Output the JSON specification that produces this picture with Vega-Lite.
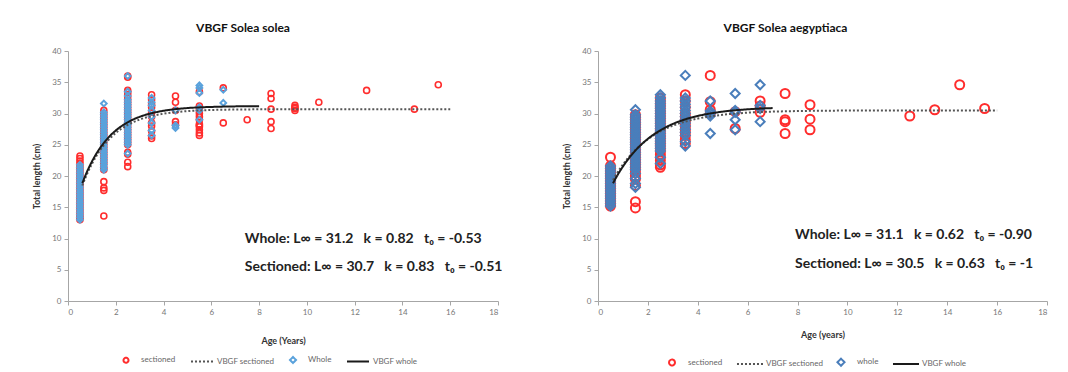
{
"$schema": "https://vega.github.io/schema/vega-lite/v6.json",
"background": "white",
"padding": {"left": 32, "top": 22, "right": 5, "bottom": 0},
"spacing": 59,
"config": {
  "font": "Lato",
  "view": {"stroke": null},
  "axis": {"grid": false, "labelFontSize": 8, "labelColor": "#777", "domainColor": "#a6a6a6", "tickColor": "#a6a6a6", "tickSize": 4, "titleFontSize": 9, "titleFontWeight": "bold", "titleColor": "#333", "labelPadding": 3},
  "title": {"fontSize": 12, "fontWeight": "bold", "color": "#111", "offset": 12},
  "legend": {"labelFontSize": 8, "labelColor": "#666", "columnPadding": 11, "labelOffset": 9, "symbolStrokeWidth": 2}
},
"datasets": {
"sol_pts": [
{"series":"sectioned","age":0.5,"cm":13},{"series":"sectioned","age":0.5,"cm":13.3},{"series":"sectioned","age":0.5,"cm":13.6},{"series":"sectioned","age":0.5,"cm":14},{"series":"sectioned","age":0.5,"cm":14.4},{"series":"sectioned","age":0.5,"cm":14.8},{"series":"sectioned","age":0.5,"cm":15.2},{"series":"sectioned","age":0.5,"cm":15.6},{"series":"sectioned","age":0.5,"cm":16},{"series":"sectioned","age":0.5,"cm":16.4},{"series":"sectioned","age":0.5,"cm":16.8},{"series":"sectioned","age":0.5,"cm":17.2},{"series":"sectioned","age":0.5,"cm":17.6},{"series":"sectioned","age":0.5,"cm":18},{"series":"sectioned","age":0.5,"cm":18.4},{"series":"sectioned","age":0.5,"cm":18.8},{"series":"sectioned","age":0.5,"cm":19.2},{"series":"sectioned","age":0.5,"cm":19.6},{"series":"sectioned","age":0.5,"cm":20},{"series":"sectioned","age":0.5,"cm":20.4},{"series":"sectioned","age":0.5,"cm":20.8},{"series":"sectioned","age":0.5,"cm":21.2},{"series":"sectioned","age":0.5,"cm":21.6},{"series":"sectioned","age":0.5,"cm":22},{"series":"sectioned","age":0.5,"cm":22.4},{"series":"sectioned","age":0.5,"cm":22.8},{"series":"sectioned","age":0.5,"cm":23.2},
{"series":"sectioned","age":1.5,"cm":13.6},{"series":"sectioned","age":1.5,"cm":17.7},{"series":"sectioned","age":1.5,"cm":18.1},{"series":"sectioned","age":1.5,"cm":19.1},{"series":"sectioned","age":1.5,"cm":21},{"series":"sectioned","age":1.5,"cm":21.4},{"series":"sectioned","age":1.5,"cm":22},{"series":"sectioned","age":1.5,"cm":22.5},{"series":"sectioned","age":1.5,"cm":23},{"series":"sectioned","age":1.5,"cm":23.5},{"series":"sectioned","age":1.5,"cm":24},{"series":"sectioned","age":1.5,"cm":24.5},{"series":"sectioned","age":1.5,"cm":25},{"series":"sectioned","age":1.5,"cm":25.5},{"series":"sectioned","age":1.5,"cm":26},{"series":"sectioned","age":1.5,"cm":26.5},{"series":"sectioned","age":1.5,"cm":27},{"series":"sectioned","age":1.5,"cm":27.5},{"series":"sectioned","age":1.5,"cm":28},{"series":"sectioned","age":1.5,"cm":28.5},{"series":"sectioned","age":1.5,"cm":29},{"series":"sectioned","age":1.5,"cm":29.5},{"series":"sectioned","age":1.5,"cm":30},{"series":"sectioned","age":1.5,"cm":30.5},
{"series":"sectioned","age":2.5,"cm":21.5},{"series":"sectioned","age":2.5,"cm":22.2},{"series":"sectioned","age":2.5,"cm":23.5},{"series":"sectioned","age":2.5,"cm":23.8},{"series":"sectioned","age":2.5,"cm":25},{"series":"sectioned","age":2.5,"cm":25.5},{"series":"sectioned","age":2.5,"cm":26},{"series":"sectioned","age":2.5,"cm":26.5},{"series":"sectioned","age":2.5,"cm":27},{"series":"sectioned","age":2.5,"cm":27.5},{"series":"sectioned","age":2.5,"cm":28},{"series":"sectioned","age":2.5,"cm":28.5},{"series":"sectioned","age":2.5,"cm":29},{"series":"sectioned","age":2.5,"cm":29.5},{"series":"sectioned","age":2.5,"cm":30},{"series":"sectioned","age":2.5,"cm":30.5},{"series":"sectioned","age":2.5,"cm":31},{"series":"sectioned","age":2.5,"cm":31.5},{"series":"sectioned","age":2.5,"cm":32},{"series":"sectioned","age":2.5,"cm":32.5},{"series":"sectioned","age":2.5,"cm":33},{"series":"sectioned","age":2.5,"cm":33.4},{"series":"sectioned","age":2.5,"cm":33.7},{"series":"sectioned","age":2.5,"cm":35.8},{"series":"sectioned","age":2.5,"cm":36},
{"series":"sectioned","age":3.5,"cm":26},{"series":"sectioned","age":3.5,"cm":26.4},{"series":"sectioned","age":3.5,"cm":27.2},{"series":"sectioned","age":3.5,"cm":28},{"series":"sectioned","age":3.5,"cm":28.5},{"series":"sectioned","age":3.5,"cm":29.5},{"series":"sectioned","age":3.5,"cm":30.2},{"series":"sectioned","age":3.5,"cm":31},{"series":"sectioned","age":3.5,"cm":31.5},{"series":"sectioned","age":3.5,"cm":32.2},{"series":"sectioned","age":3.5,"cm":33},
{"series":"sectioned","age":4.5,"cm":28.2},{"series":"sectioned","age":4.5,"cm":28.7},{"series":"sectioned","age":4.5,"cm":30.5},{"series":"sectioned","age":4.5,"cm":31.8},{"series":"sectioned","age":4.5,"cm":32.8},
{"series":"sectioned","age":5.5,"cm":26.5},{"series":"sectioned","age":5.5,"cm":26.9},{"series":"sectioned","age":5.5,"cm":27.4},{"series":"sectioned","age":5.5,"cm":27.9},{"series":"sectioned","age":5.5,"cm":28.1},{"series":"sectioned","age":5.5,"cm":28.3},{"series":"sectioned","age":5.5,"cm":29},{"series":"sectioned","age":5.5,"cm":29.5},{"series":"sectioned","age":5.5,"cm":30},{"series":"sectioned","age":5.5,"cm":30.4},{"series":"sectioned","age":5.5,"cm":30.8},{"series":"sectioned","age":5.5,"cm":31.2},{"series":"sectioned","age":5.5,"cm":33.5},
{"series":"sectioned","age":6.5,"cm":28.5},{"series":"sectioned","age":6.5,"cm":34.1},
{"series":"sectioned","age":7.5,"cm":29},
{"series":"sectioned","age":8.5,"cm":27.6},{"series":"sectioned","age":8.5,"cm":28.7},{"series":"sectioned","age":8.5,"cm":30.7},{"series":"sectioned","age":8.5,"cm":32.4},{"series":"sectioned","age":8.5,"cm":33.2},
{"series":"sectioned","age":9.5,"cm":30.5},{"series":"sectioned","age":9.5,"cm":30.8},{"series":"sectioned","age":9.5,"cm":31},{"series":"sectioned","age":9.5,"cm":31.3},
{"series":"sectioned","age":10.5,"cm":31.8},{"series":"sectioned","age":12.5,"cm":33.7},{"series":"sectioned","age":14.5,"cm":30.7},{"series":"sectioned","age":15.5,"cm":34.6},
{"series":"Whole","age":0.5,"cm":13},{"series":"Whole","age":0.5,"cm":13.4},{"series":"Whole","age":0.5,"cm":13.8},{"series":"Whole","age":0.5,"cm":14.2},{"series":"Whole","age":0.5,"cm":14.6},{"series":"Whole","age":0.5,"cm":15},{"series":"Whole","age":0.5,"cm":15.4},{"series":"Whole","age":0.5,"cm":15.8},{"series":"Whole","age":0.5,"cm":16.2},{"series":"Whole","age":0.5,"cm":16.6},{"series":"Whole","age":0.5,"cm":17},{"series":"Whole","age":0.5,"cm":17.4},{"series":"Whole","age":0.5,"cm":17.8},{"series":"Whole","age":0.5,"cm":18.2},{"series":"Whole","age":0.5,"cm":18.6},{"series":"Whole","age":0.5,"cm":19},{"series":"Whole","age":0.5,"cm":19.4},{"series":"Whole","age":0.5,"cm":19.8},{"series":"Whole","age":0.5,"cm":20.2},{"series":"Whole","age":0.5,"cm":20.6},{"series":"Whole","age":0.5,"cm":21},{"series":"Whole","age":0.5,"cm":21.4},{"series":"Whole","age":0.5,"cm":21.8},
{"series":"Whole","age":1.5,"cm":21},{"series":"Whole","age":1.5,"cm":21.4},{"series":"Whole","age":1.5,"cm":21.8},{"series":"Whole","age":1.5,"cm":22.2},{"series":"Whole","age":1.5,"cm":22.6},{"series":"Whole","age":1.5,"cm":23},{"series":"Whole","age":1.5,"cm":23.4},{"series":"Whole","age":1.5,"cm":23.8},{"series":"Whole","age":1.5,"cm":24.2},{"series":"Whole","age":1.5,"cm":24.6},{"series":"Whole","age":1.5,"cm":25},{"series":"Whole","age":1.5,"cm":25.4},{"series":"Whole","age":1.5,"cm":25.8},{"series":"Whole","age":1.5,"cm":26.2},{"series":"Whole","age":1.5,"cm":26.6},{"series":"Whole","age":1.5,"cm":27},{"series":"Whole","age":1.5,"cm":27.4},{"series":"Whole","age":1.5,"cm":27.8},{"series":"Whole","age":1.5,"cm":28.2},{"series":"Whole","age":1.5,"cm":28.6},{"series":"Whole","age":1.5,"cm":29},{"series":"Whole","age":1.5,"cm":29.4},{"series":"Whole","age":1.5,"cm":29.8},{"series":"Whole","age":1.5,"cm":30.2},{"series":"Whole","age":1.5,"cm":31.6},
{"series":"Whole","age":2.5,"cm":23.6},{"series":"Whole","age":2.5,"cm":25},{"series":"Whole","age":2.5,"cm":25.4},{"series":"Whole","age":2.5,"cm":25.8},{"series":"Whole","age":2.5,"cm":26.2},{"series":"Whole","age":2.5,"cm":26.6},{"series":"Whole","age":2.5,"cm":27},{"series":"Whole","age":2.5,"cm":27.4},{"series":"Whole","age":2.5,"cm":27.8},{"series":"Whole","age":2.5,"cm":28.2},{"series":"Whole","age":2.5,"cm":28.6},{"series":"Whole","age":2.5,"cm":29},{"series":"Whole","age":2.5,"cm":29.4},{"series":"Whole","age":2.5,"cm":29.8},{"series":"Whole","age":2.5,"cm":30.2},{"series":"Whole","age":2.5,"cm":30.6},{"series":"Whole","age":2.5,"cm":31},{"series":"Whole","age":2.5,"cm":31.4},{"series":"Whole","age":2.5,"cm":31.8},{"series":"Whole","age":2.5,"cm":32.2},{"series":"Whole","age":2.5,"cm":32.8},{"series":"Whole","age":2.5,"cm":33.5},{"series":"Whole","age":2.5,"cm":36},
{"series":"Whole","age":3.5,"cm":26.5},{"series":"Whole","age":3.5,"cm":27.3},{"series":"Whole","age":3.5,"cm":28.5},{"series":"Whole","age":3.5,"cm":29.5},{"series":"Whole","age":3.5,"cm":30.5},{"series":"Whole","age":3.5,"cm":31.3},{"series":"Whole","age":3.5,"cm":31.8},{"series":"Whole","age":3.5,"cm":32.5},
{"series":"Whole","age":4.5,"cm":27.7},{"series":"Whole","age":4.5,"cm":28.1},{"series":"Whole","age":4.5,"cm":30.5},
{"series":"Whole","age":5.5,"cm":29},{"series":"Whole","age":5.5,"cm":30.5},{"series":"Whole","age":5.5,"cm":31},{"series":"Whole","age":5.5,"cm":33.3},{"series":"Whole","age":5.5,"cm":34.1},{"series":"Whole","age":5.5,"cm":34.5},
{"series":"Whole","age":6.5,"cm":31.7},{"series":"Whole","age":6.5,"cm":33.8}
],
"sol_curve": [
{"series":"VBGF whole","age":0.6,"cm":18.85},{"series":"VBGF whole","age":0.75,"cm":20.28},{"series":"VBGF whole","age":1,"cm":22.3},{"series":"VBGF whole","age":1.25,"cm":23.95},{"series":"VBGF whole","age":1.5,"cm":25.29},{"series":"VBGF whole","age":1.75,"cm":26.39},{"series":"VBGF whole","age":2,"cm":27.28},{"series":"VBGF whole","age":2.5,"cm":28.6},{"series":"VBGF whole","age":3,"cm":29.47},{"series":"VBGF whole","age":3.5,"cm":30.05},{"series":"VBGF whole","age":4,"cm":30.44},{"series":"VBGF whole","age":5,"cm":30.87},{"series":"VBGF whole","age":6,"cm":31.05},{"series":"VBGF whole","age":7,"cm":31.14},{"series":"VBGF whole","age":8,"cm":31.17},
{"series":"VBGF sectioned","age":0.6,"cm":18.48},{"series":"VBGF sectioned","age":0.75,"cm":19.91},{"series":"VBGF sectioned","age":1,"cm":21.93},{"series":"VBGF sectioned","age":1.25,"cm":23.58},{"series":"VBGF sectioned","age":1.5,"cm":24.91},{"series":"VBGF sectioned","age":1.75,"cm":26},{"series":"VBGF sectioned","age":2,"cm":26.88},{"series":"VBGF sectioned","age":2.5,"cm":28.18},{"series":"VBGF sectioned","age":3,"cm":29.03},{"series":"VBGF sectioned","age":3.5,"cm":29.6},{"series":"VBGF sectioned","age":4,"cm":29.97},{"series":"VBGF sectioned","age":5,"cm":30.38},{"series":"VBGF sectioned","age":6,"cm":30.56},{"series":"VBGF sectioned","age":8,"cm":30.67},{"series":"VBGF sectioned","age":10,"cm":30.7},{"series":"VBGF sectioned","age":12,"cm":30.7},{"series":"VBGF sectioned","age":14,"cm":30.7},{"series":"VBGF sectioned","age":16,"cm":30.7}
],
"sol_note": [
{"age":7.4,"cm":9.9,"label":"Whole: L∞ = 31.2\u00a0\u00a0\u00a0k = 0.82\u00a0\u00a0\u00a0t₀ = -0.53"},
{"age":7.4,"cm":5.4,"label":"Sectioned: L∞ = 30.7\u00a0\u00a0\u00a0k = 0.83\u00a0\u00a0\u00a0t₀ = -0.51"}
],
"aeg_pts": [
{"series":"sectioned","age":0.5,"cm":15.2},{"series":"sectioned","age":0.5,"cm":15.6},{"series":"sectioned","age":0.5,"cm":16},{"series":"sectioned","age":0.5,"cm":16.4},{"series":"sectioned","age":0.5,"cm":16.8},{"series":"sectioned","age":0.5,"cm":17.2},{"series":"sectioned","age":0.5,"cm":17.6},{"series":"sectioned","age":0.5,"cm":18},{"series":"sectioned","age":0.5,"cm":18.4},{"series":"sectioned","age":0.5,"cm":18.8},{"series":"sectioned","age":0.5,"cm":19.2},{"series":"sectioned","age":0.5,"cm":19.6},{"series":"sectioned","age":0.5,"cm":20},{"series":"sectioned","age":0.5,"cm":20.4},{"series":"sectioned","age":0.5,"cm":20.8},{"series":"sectioned","age":0.5,"cm":21.2},{"series":"sectioned","age":0.5,"cm":21.6},{"series":"sectioned","age":0.5,"cm":23},
{"series":"sectioned","age":1.5,"cm":14.9},{"series":"sectioned","age":1.5,"cm":15.9},{"series":"sectioned","age":1.5,"cm":18.5},{"series":"sectioned","age":1.5,"cm":19.5},{"series":"sectioned","age":1.5,"cm":20},{"series":"sectioned","age":1.5,"cm":20.5},{"series":"sectioned","age":1.5,"cm":21},{"series":"sectioned","age":1.5,"cm":21.5},{"series":"sectioned","age":1.5,"cm":22},{"series":"sectioned","age":1.5,"cm":22.5},{"series":"sectioned","age":1.5,"cm":23},{"series":"sectioned","age":1.5,"cm":23.5},{"series":"sectioned","age":1.5,"cm":24},{"series":"sectioned","age":1.5,"cm":24.5},{"series":"sectioned","age":1.5,"cm":25},{"series":"sectioned","age":1.5,"cm":25.5},{"series":"sectioned","age":1.5,"cm":26},{"series":"sectioned","age":1.5,"cm":26.5},{"series":"sectioned","age":1.5,"cm":27},{"series":"sectioned","age":1.5,"cm":27.5},{"series":"sectioned","age":1.5,"cm":28},{"series":"sectioned","age":1.5,"cm":28.5},{"series":"sectioned","age":1.5,"cm":29},{"series":"sectioned","age":1.5,"cm":29.5},{"series":"sectioned","age":1.5,"cm":29.8},
{"series":"sectioned","age":2.5,"cm":21.4},{"series":"sectioned","age":2.5,"cm":21.8},{"series":"sectioned","age":2.5,"cm":22.5},{"series":"sectioned","age":2.5,"cm":23},{"series":"sectioned","age":2.5,"cm":23.5},{"series":"sectioned","age":2.5,"cm":24},{"series":"sectioned","age":2.5,"cm":24.5},{"series":"sectioned","age":2.5,"cm":25},{"series":"sectioned","age":2.5,"cm":25.5},{"series":"sectioned","age":2.5,"cm":26},{"series":"sectioned","age":2.5,"cm":26.5},{"series":"sectioned","age":2.5,"cm":27},{"series":"sectioned","age":2.5,"cm":27.5},{"series":"sectioned","age":2.5,"cm":28},{"series":"sectioned","age":2.5,"cm":28.5},{"series":"sectioned","age":2.5,"cm":29},{"series":"sectioned","age":2.5,"cm":29.5},{"series":"sectioned","age":2.5,"cm":30},{"series":"sectioned","age":2.5,"cm":30.5},{"series":"sectioned","age":2.5,"cm":31},{"series":"sectioned","age":2.5,"cm":31.5},{"series":"sectioned","age":2.5,"cm":32},{"series":"sectioned","age":2.5,"cm":32.5},
{"series":"sectioned","age":3.5,"cm":25.2},{"series":"sectioned","age":3.5,"cm":25.8},{"series":"sectioned","age":3.5,"cm":26.5},{"series":"sectioned","age":3.5,"cm":27},{"series":"sectioned","age":3.5,"cm":27.5},{"series":"sectioned","age":3.5,"cm":28},{"series":"sectioned","age":3.5,"cm":28.5},{"series":"sectioned","age":3.5,"cm":29},{"series":"sectioned","age":3.5,"cm":29.5},{"series":"sectioned","age":3.5,"cm":30},{"series":"sectioned","age":3.5,"cm":31},{"series":"sectioned","age":3.5,"cm":32},{"series":"sectioned","age":3.5,"cm":33},
{"series":"sectioned","age":4.5,"cm":30},{"series":"sectioned","age":4.5,"cm":30.6},{"series":"sectioned","age":4.5,"cm":31.9},{"series":"sectioned","age":4.5,"cm":36.1},
{"series":"sectioned","age":5.5,"cm":27.6},{"series":"sectioned","age":5.5,"cm":30.3},
{"series":"sectioned","age":6.5,"cm":30.2},{"series":"sectioned","age":6.5,"cm":31.2},{"series":"sectioned","age":6.5,"cm":32},
{"series":"sectioned","age":7.5,"cm":26.8},{"series":"sectioned","age":7.5,"cm":28.7},{"series":"sectioned","age":7.5,"cm":29},{"series":"sectioned","age":7.5,"cm":33.2},
{"series":"sectioned","age":8.5,"cm":27.4},{"series":"sectioned","age":8.5,"cm":29.1},{"series":"sectioned","age":8.5,"cm":31.4},
{"series":"sectioned","age":12.5,"cm":29.6},{"series":"sectioned","age":13.5,"cm":30.6},{"series":"sectioned","age":14.5,"cm":34.6},{"series":"sectioned","age":15.5,"cm":30.8},
{"series":"whole","age":0.5,"cm":15.2},{"series":"whole","age":0.5,"cm":15.6},{"series":"whole","age":0.5,"cm":16},{"series":"whole","age":0.5,"cm":16.4},{"series":"whole","age":0.5,"cm":16.8},{"series":"whole","age":0.5,"cm":17.2},{"series":"whole","age":0.5,"cm":17.6},{"series":"whole","age":0.5,"cm":18},{"series":"whole","age":0.5,"cm":18.4},{"series":"whole","age":0.5,"cm":18.8},{"series":"whole","age":0.5,"cm":19.2},{"series":"whole","age":0.5,"cm":19.6},{"series":"whole","age":0.5,"cm":20},{"series":"whole","age":0.5,"cm":20.4},{"series":"whole","age":0.5,"cm":20.8},{"series":"whole","age":0.5,"cm":21.2},{"series":"whole","age":0.5,"cm":21.6},
{"series":"whole","age":1.5,"cm":18.2},{"series":"whole","age":1.5,"cm":18.8},{"series":"whole","age":1.5,"cm":19.6},{"series":"whole","age":1.5,"cm":20.4},{"series":"whole","age":1.5,"cm":21},{"series":"whole","age":1.5,"cm":21.4},{"series":"whole","age":1.5,"cm":21.8},{"series":"whole","age":1.5,"cm":22.2},{"series":"whole","age":1.5,"cm":22.6},{"series":"whole","age":1.5,"cm":23},{"series":"whole","age":1.5,"cm":23.4},{"series":"whole","age":1.5,"cm":23.8},{"series":"whole","age":1.5,"cm":24.2},{"series":"whole","age":1.5,"cm":24.6},{"series":"whole","age":1.5,"cm":25},{"series":"whole","age":1.5,"cm":25.4},{"series":"whole","age":1.5,"cm":25.8},{"series":"whole","age":1.5,"cm":26.2},{"series":"whole","age":1.5,"cm":26.6},{"series":"whole","age":1.5,"cm":27},{"series":"whole","age":1.5,"cm":27.4},{"series":"whole","age":1.5,"cm":27.8},{"series":"whole","age":1.5,"cm":28.2},{"series":"whole","age":1.5,"cm":28.6},{"series":"whole","age":1.5,"cm":29},{"series":"whole","age":1.5,"cm":29.4},{"series":"whole","age":1.5,"cm":29.8},{"series":"whole","age":1.5,"cm":30.6},
{"series":"whole","age":2.5,"cm":22},{"series":"whole","age":2.5,"cm":23},{"series":"whole","age":2.5,"cm":24},{"series":"whole","age":2.5,"cm":24.4},{"series":"whole","age":2.5,"cm":24.8},{"series":"whole","age":2.5,"cm":25.2},{"series":"whole","age":2.5,"cm":25.6},{"series":"whole","age":2.5,"cm":26},{"series":"whole","age":2.5,"cm":26.4},{"series":"whole","age":2.5,"cm":26.8},{"series":"whole","age":2.5,"cm":27.2},{"series":"whole","age":2.5,"cm":27.6},{"series":"whole","age":2.5,"cm":28},{"series":"whole","age":2.5,"cm":28.4},{"series":"whole","age":2.5,"cm":28.8},{"series":"whole","age":2.5,"cm":29.2},{"series":"whole","age":2.5,"cm":29.6},{"series":"whole","age":2.5,"cm":30},{"series":"whole","age":2.5,"cm":30.4},{"series":"whole","age":2.5,"cm":30.8},{"series":"whole","age":2.5,"cm":31.2},{"series":"whole","age":2.5,"cm":31.6},{"series":"whole","age":2.5,"cm":32},{"series":"whole","age":2.5,"cm":32.5},{"series":"whole","age":2.5,"cm":33},
{"series":"whole","age":3.5,"cm":24.8},{"series":"whole","age":3.5,"cm":25.5},{"series":"whole","age":3.5,"cm":26.5},{"series":"whole","age":3.5,"cm":27},{"series":"whole","age":3.5,"cm":27.5},{"series":"whole","age":3.5,"cm":28},{"series":"whole","age":3.5,"cm":28.5},{"series":"whole","age":3.5,"cm":29},{"series":"whole","age":3.5,"cm":29.5},{"series":"whole","age":3.5,"cm":30},{"series":"whole","age":3.5,"cm":30.5},{"series":"whole","age":3.5,"cm":31},{"series":"whole","age":3.5,"cm":31.5},{"series":"whole","age":3.5,"cm":32},{"series":"whole","age":3.5,"cm":32.5},{"series":"whole","age":3.5,"cm":36.1},
{"series":"whole","age":4.5,"cm":26.8},{"series":"whole","age":4.5,"cm":29.6},{"series":"whole","age":4.5,"cm":30},{"series":"whole","age":4.5,"cm":30.4},{"series":"whole","age":4.5,"cm":32},
{"series":"whole","age":5.5,"cm":27.4},{"series":"whole","age":5.5,"cm":29},{"series":"whole","age":5.5,"cm":30.2},{"series":"whole","age":5.5,"cm":30.5},{"series":"whole","age":5.5,"cm":33.2},
{"series":"whole","age":6.5,"cm":28.7},{"series":"whole","age":6.5,"cm":30.8},{"series":"whole","age":6.5,"cm":31.3},{"series":"whole","age":6.5,"cm":34.6}
],
"aeg_curve": [
{"series":"VBGF whole","age":0.6,"cm":18.83},{"series":"VBGF whole","age":0.75,"cm":19.92},{"series":"VBGF whole","age":1,"cm":21.52},{"series":"VBGF whole","age":1.25,"cm":22.9},{"series":"VBGF whole","age":1.5,"cm":24.08},{"series":"VBGF whole","age":1.75,"cm":25.09},{"series":"VBGF whole","age":2,"cm":25.95},{"series":"VBGF whole","age":2.5,"cm":27.32},{"series":"VBGF whole","age":3,"cm":28.33},{"series":"VBGF whole","age":3.5,"cm":29.07},{"series":"VBGF whole","age":4,"cm":29.61},{"series":"VBGF whole","age":5,"cm":30.3},{"series":"VBGF whole","age":6,"cm":30.67},{"series":"VBGF whole","age":7,"cm":30.87},
{"series":"VBGF sectioned","age":0.6,"cm":19.37},{"series":"VBGF sectioned","age":0.75,"cm":20.37},{"series":"VBGF sectioned","age":1,"cm":21.85},{"series":"VBGF sectioned","age":1.25,"cm":23.11},{"series":"VBGF sectioned","age":1.5,"cm":24.19},{"series":"VBGF sectioned","age":1.75,"cm":25.11},{"series":"VBGF sectioned","age":2,"cm":25.89},{"series":"VBGF sectioned","age":2.5,"cm":27.14},{"series":"VBGF sectioned","age":3,"cm":28.05},{"series":"VBGF sectioned","age":3.5,"cm":28.71},{"series":"VBGF sectioned","age":4,"cm":29.19},{"series":"VBGF sectioned","age":5,"cm":29.8},{"series":"VBGF sectioned","age":6,"cm":30.13},{"series":"VBGF sectioned","age":8,"cm":30.39},{"series":"VBGF sectioned","age":10,"cm":30.47},{"series":"VBGF sectioned","age":12,"cm":30.49},{"series":"VBGF sectioned","age":14,"cm":30.5},{"series":"VBGF sectioned","age":16,"cm":30.5}
],
"aeg_note": [
{"age":7.9,"cm":10.6,"label":"Whole: L∞ = 31.1\u00a0\u00a0\u00a0k = 0.62\u00a0\u00a0\u00a0t₀ = -0.90"},
{"age":7.9,"cm":5.9,"label":"Sectioned: L∞ = 30.5\u00a0\u00a0\u00a0k = 0.63\u00a0\u00a0\u00a0t₀ = -1"}
]
},
"hconcat": [
{
 "width": 430, "height": 250,
 "title": {"text": "VBGF Solea solea", "dx": -40, "anchor": "middle"},
 "encoding": {
  "x": {"field": "age", "type": "quantitative", "scale": {"domain": [0, 18], "nice": false}, "axis": {"values": [0,2,4,6,8,10,12,14,16,18], "title": "Age (Years)", "titlePadding": 20}},
  "y": {"field": "cm", "type": "quantitative", "scale": {"domain": [0, 40], "nice": false}, "axis": {"values": [0,5,10,15,20,25,30,35,40], "title": "Total length (cm)", "titlePadding": 10}}
 },
 "layer": [
  {"data": {"name": "sol_pts"}, "transform": [{"filter": "datum.series === 'sectioned'"}],
   "mark": {"type": "point", "filled": false, "strokeWidth": 1.6, "opacity": 1, "size": 144},
   "encoding": {
    "color": {"field": "series", "type": "nominal", "scale": {"domain": ["sectioned","VBGF sectioned","Whole","VBGF whole"], "range": ["#ff2d2d","#555555","#5aa2dc","#1a1a1a"]}, "legend": {"orient": "none", "legendX": 52, "legendY": 303, "direction": "horizontal", "title": null, "symbolSize": 100}},
    "shape": {"field": "series", "type": "nominal", "scale": {"domain": ["sectioned","VBGF sectioned","Whole","VBGF whole"], "range": ["M0.5,0A0.5,0.5,0,1,1,-0.5,0A0.5,0.5,0,1,1,0.5,0Z","M-2.2,0L2.2,0","M0,-0.6L0.6,0L0,0.6L-0.6,0Z","M-2.2,0L2.2,0"]}, "legend": {"orient": "none", "legendX": 52, "legendY": 303, "direction": "horizontal", "title": null, "symbolSize": 100}}
   }},
  {"data": {"name": "sol_pts"}, "transform": [{"filter": "datum.series === 'Whole'"}],
   "mark": {"type": "point", "filled": false, "strokeWidth": 2, "opacity": 1, "size": 90},
   "encoding": {
    "color": {"field": "series", "type": "nominal"},
    "shape": {"field": "series", "type": "nominal"}
   }},
  {"data": {"name": "sol_curve"}, "transform": [{"filter": "datum.series === 'VBGF sectioned'"}],
   "mark": {"type": "line", "strokeWidth": 2, "interpolate": "monotone"},
   "encoding": {
    "color": {"field": "series", "type": "nominal"},
    "strokeDash": {"field": "series", "type": "nominal", "scale": {"domain": ["sectioned","VBGF sectioned","Whole","VBGF whole"], "range": [[1,0],[2,2],[1,0],[1,0]]}, "legend": {"orient": "none", "legendX": 52, "legendY": 303, "direction": "horizontal", "title": null, "symbolSize": 100}}
   }},
  {"data": {"name": "sol_curve"}, "transform": [{"filter": "datum.series === 'VBGF whole'"}],
   "mark": {"type": "line", "strokeWidth": 2, "interpolate": "monotone"},
   "encoding": {
    "color": {"field": "series", "type": "nominal"},
    "strokeDash": {"field": "series", "type": "nominal"}
   }},
  {"data": {"name": "sol_note"},
   "mark": {"type": "text", "align": "left", "baseline": "middle", "fontSize": 14, "fontWeight": "bold", "color": "#222"},
   "encoding": {"text": {"field": "label"}}}
 ]
},
{
 "width": 449, "height": 250,
 "title": {"text": "VBGF Solea aegyptiaca", "dx": -37, "anchor": "middle"},
 "encoding": {
  "x": {"field": "age", "type": "quantitative", "scale": {"domain": [0, 18], "nice": false}, "axis": {"values": [0,2,4,6,8,10,12,14,16,18], "title": "Age (years)", "titlePadding": 14}},
  "y": {"field": "cm", "type": "quantitative", "scale": {"domain": [0, 40], "nice": false}, "axis": {"values": [0,5,10,15,20,25,30,35,40], "title": "Total length (cm)", "titlePadding": 10}}
 },
 "layer": [
  {"data": {"name": "aeg_pts"}, "transform": [{"filter": "datum.series === 'sectioned'"}],
   "mark": {"type": "point", "filled": false, "strokeWidth": 2, "opacity": 1, "size": 324},
   "encoding": {
    "color": {"field": "series", "type": "nominal", "scale": {"domain": ["sectioned","VBGF sectioned","whole","VBGF whole"], "range": ["#ff2d2d","#555555","#4a7ebb","#1a1a1a"]}, "legend": {"orient": "none", "legendX": 67, "legendY": 304, "direction": "horizontal", "title": null, "symbolSize": 140, "columnPadding": 9}},
    "shape": {"field": "series", "type": "nominal", "scale": {"domain": ["sectioned","VBGF sectioned","whole","VBGF whole"], "range": ["M0.5,0A0.5,0.5,0,1,1,-0.5,0A0.5,0.5,0,1,1,0.5,0Z","M-2.2,0L2.2,0","M0,-0.6L0.6,0L0,0.6L-0.6,0Z","M-2.2,0L2.2,0"]}, "legend": {"orient": "none", "legendX": 67, "legendY": 304, "direction": "horizontal", "title": null, "symbolSize": 140, "columnPadding": 9}}
   }},
  {"data": {"name": "aeg_pts"}, "transform": [{"filter": "datum.series === 'whole'"}],
   "mark": {"type": "point", "filled": false, "strokeWidth": 2, "opacity": 1, "size": 225},
   "encoding": {
    "color": {"field": "series", "type": "nominal"},
    "shape": {"field": "series", "type": "nominal"}
   }},
  {"data": {"name": "aeg_curve"}, "transform": [{"filter": "datum.series === 'VBGF sectioned'"}],
   "mark": {"type": "line", "strokeWidth": 2, "interpolate": "monotone"},
   "encoding": {
    "color": {"field": "series", "type": "nominal"},
    "strokeDash": {"field": "series", "type": "nominal", "scale": {"domain": ["sectioned","VBGF sectioned","whole","VBGF whole"], "range": [[1,0],[2,2],[1,0],[1,0]]}, "legend": {"orient": "none", "legendX": 67, "legendY": 304, "direction": "horizontal", "title": null, "symbolSize": 140, "columnPadding": 9}}
   }},
  {"data": {"name": "aeg_curve"}, "transform": [{"filter": "datum.series === 'VBGF whole'"}],
   "mark": {"type": "line", "strokeWidth": 2, "interpolate": "monotone"},
   "encoding": {
    "color": {"field": "series", "type": "nominal"},
    "strokeDash": {"field": "series", "type": "nominal"}
   }},
  {"data": {"name": "aeg_note"},
   "mark": {"type": "text", "align": "left", "baseline": "middle", "fontSize": 14, "fontWeight": "bold", "color": "#222"},
   "encoding": {"text": {"field": "label"}}}
 ]
}
],
"resolve": {"scale": {"color": "independent", "shape": "independent", "strokeDash": "independent"}, "legend": {"color": "independent", "shape": "independent", "strokeDash": "independent"}}
}
